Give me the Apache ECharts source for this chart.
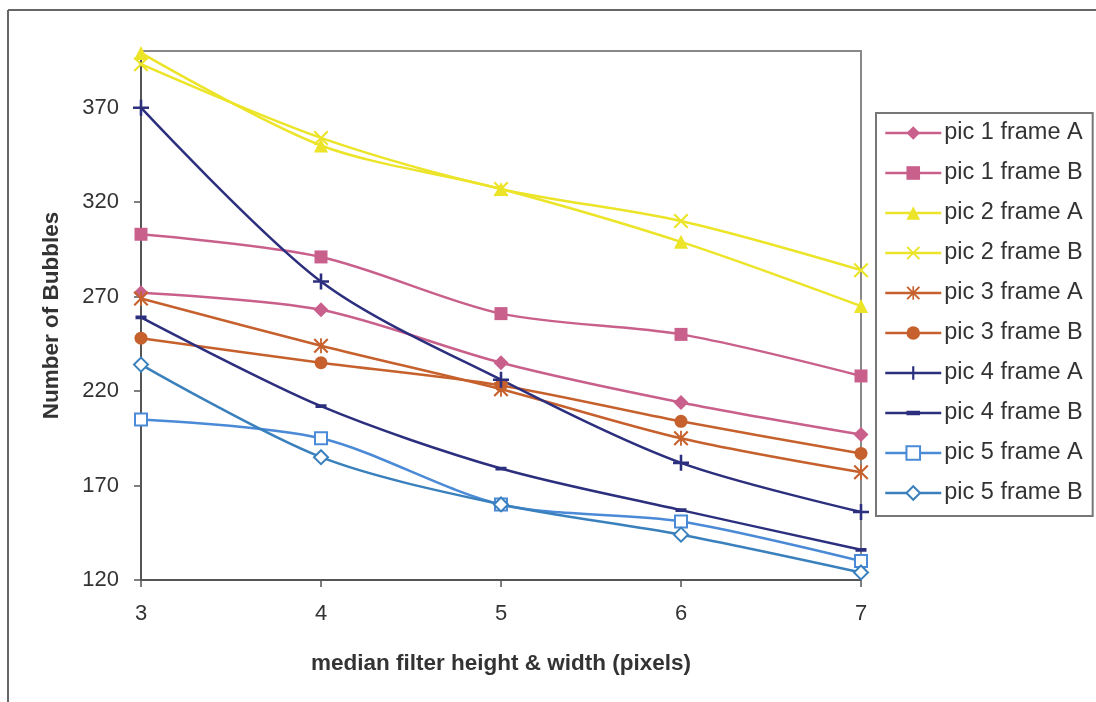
<!DOCTYPE html>
<html>
<head>
<meta charset="utf-8">
<script src="https://cdn.jsdelivr.net/npm/echarts@6/dist/echarts.min.js"></script>
<style>
  html, body { margin: 0; padding: 0; background: #fff; }
  #chart { width: 1096px; height: 702px; }
</style>
</head>
<body>
<div id="chart"></div>
<script>
// filter size on the x axis
var filterSizes = ['3', '4', '5', '6', '7'];
var yTicks = [120, 170, 220, 270, 320, 370];

// bubble counts
var pic1A = [272, 263, 235, 214, 197];
var pic1B = [303, 291, 261, 250, 228];
var pic2A = [399, 350, 327, 299, 265];
var pic2B = [393, 354, 327, 310, 284];
var pic3A = [269, 244, 221, 195, 177];
var pic3B = [248, 235, 223, 204, 187];
var pic4A = [370, 278, 226, 182, 156];
var pic4B = [259, 212, 179, 157, 136];
var pic5A = [205, 195, 160, 151, 130];
var pic5B = [234, 185, 160, 144, 124];

var FONT = '"Liberation Sans", Arial, sans-serif';

// marker shapes that echarts does not have
var crossPath = 'path://M0,1L1,0L5,4L9,0L10,1L6,5L10,9L9,10L5,6L1,10L0,9L4,5Z';
var starPath = 'path://M0,1L1,0L5,4L9,0L10,1L6,5L10,9L9,10L5,6L1,10L0,9L4,5Z M4.4,0L5.6,0L5.6,10L4.4,10Z';
var plusPath = 'path://M4.2,0L5.8,0L5.8,4.2L10,4.2L10,5.8L5.8,5.8L5.8,10L4.2,10Z M0,4.2L4.2,4.2L4.2,5.8L0,5.8Z';
// short bar, with empty points at top and bottom so it keeps a square box
var dashPath = 'path://M0,0L0.01,0Z M0,3.3L10,3.3L10,6.7L0,6.7Z M0,10L0.01,10Z';

function makeSeries(name, data, color, symbol, size, hollow) {
  return {
    name: name,
    type: 'line',
    data: data,
    smooth: 0.3,
    symbol: symbol,
    symbolSize: size,
    showAllSymbol: true,
    lineStyle: { color: color, width: 2.5 },
    itemStyle: hollow ? { color: '#fff', borderColor: color, borderWidth: 2 } : { color: color },
    emphasis: { disabled: true }
  };
}

var chart = echarts.init(document.getElementById('chart'));
chart.setOption({
  animation: false,
  backgroundColor: '#fff',
  textStyle: { fontFamily: FONT },
  graphic: [
    { type: 'line', shape: { x1: 8, y1: 10, x2: 1096, y2: 10 }, style: { stroke: '#666', lineWidth: 2 } },
    { type: 'line', shape: { x1: 8, y1: 10, x2: 8, y2: 702 }, style: { stroke: '#666', lineWidth: 2 } }
  ],
  grid: {
    left: 141, top: 51, right: 235, bottom: 122,
    show: true, borderColor: '#888', borderWidth: 2, backgroundColor: '#fff'
  },
  legend: {
    orient: 'vertical',
    left: 876, top: 113,
    padding: [8, 10, 11, 8],
    itemWidth: 56, itemHeight: 17, itemGap: 16,
    backgroundColor: '#fff',
    borderColor: '#777', borderWidth: 2,
    lineStyle: { width: 2.5 },
    textStyle: { fontFamily: FONT, fontSize: 23.5, color: '#333', lineHeight: 22, padding: [0, 0, 0, -2] },
    data: ['pic 1 frame A', 'pic 1 frame B', 'pic 2 frame A', 'pic 2 frame B', 'pic 3 frame A',
           'pic 3 frame B', 'pic 4 frame A', 'pic 4 frame B', 'pic 5 frame A', 'pic 5 frame B']
  },
  xAxis: {
    type: 'category',
    data: filterSizes,
    boundaryGap: false,
    name: 'median filter height & width (pixels)',
    nameLocation: 'middle',
    nameGap: 72,
    nameTextStyle: { fontFamily: FONT, fontSize: 22.5, fontWeight: 'bold', color: '#333' },
    axisLine: { lineStyle: { color: '#555', width: 2 } },
    axisTick: { alignWithLabel: true, length: 7, lineStyle: { color: '#555', width: 1.5 } },
    axisLabel: { fontFamily: FONT, fontSize: 22, color: '#333', margin: 23 },
    splitLine: { show: false }
  },
  yAxis: {
    type: 'value',
    min: 120, max: 400, interval: 50,
    name: 'Number of Bubbles',
    nameLocation: 'middle',
    nameGap: 78,
    nameTextStyle: { fontFamily: FONT, fontSize: 22.5, fontWeight: 'bold', color: '#333' },
    axisLine: { show: true, lineStyle: { color: '#555', width: 2 } },
    axisTick: { show: true, length: 7, customValues: yTicks, lineStyle: { color: '#555', width: 1.5 } },
    axisLabel: { fontFamily: FONT, fontSize: 22, color: '#333', margin: 22, customValues: yTicks },
    splitLine: { show: false }
  },
  series: [
    makeSeries('pic 1 frame A', pic1A, '#c9608c', 'diamond', 15, false),
    makeSeries('pic 1 frame B', pic1B, '#c9608c', 'rect', 13, false),
    makeSeries('pic 2 frame A', pic2A, '#ece428', 'triangle', 14, false),
    makeSeries('pic 2 frame B', pic2B, '#ece428', crossPath, 15, false),
    makeSeries('pic 3 frame A', pic3A, '#c6612d', starPath, 15, false),
    makeSeries('pic 3 frame B', pic3B, '#c6612d', 'circle', 13, false),
    makeSeries('pic 4 frame A', pic4A, '#2c2f7d', plusPath, 16, false),
    makeSeries('pic 4 frame B', pic4B, '#2c2f7d', dashPath, 11, false),
    makeSeries('pic 5 frame A', pic5A, '#4a8ad6', 'rect', 12, true),
    makeSeries('pic 5 frame B', pic5B, '#3a80bd', 'diamond', 14, true)
  ]
});
</script>
</body>
</html>
